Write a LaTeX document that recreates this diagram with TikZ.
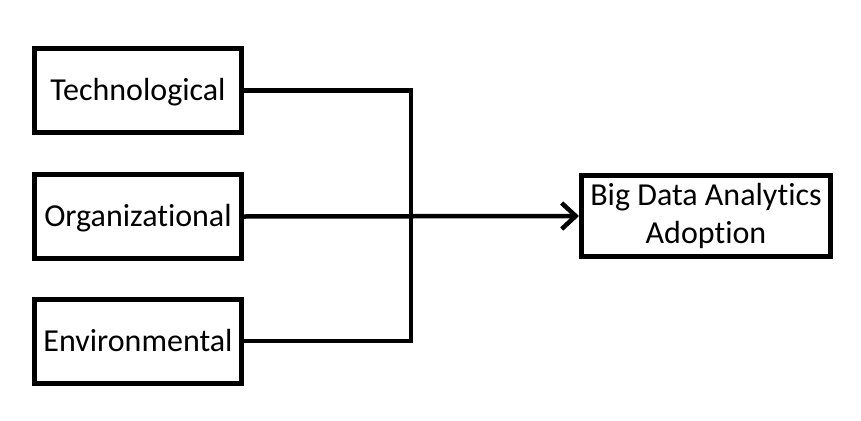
\documentclass[tikz,border=0pt]{standalone}
\usepackage{fontspec}
\setmainfont{Carlito}[Ligatures=NoCommon]
\usetikzlibrary{arrows.meta}
\begin{document}
\begin{tikzpicture}[x=1pt,y=-1pt,
  factor/.style={draw=black,line width=5pt,minimum width=207pt,minimum height=84pt,
    inner sep=0pt,font=\fontsize{32}{38}\selectfont,text height=20.6pt,text depth=0pt},
  target/.style={draw=black,line width=5pt,minimum width=249pt,minimum height=81pt,
    inner sep=0pt,align=center,font=\fontsize{32}{38}\selectfont},
  conn/.style={line width=4.5pt,draw=black}]
\useasboundingbox (0,0) rectangle (861,420);
\node[factor] (t) at (138,90.5) {Technological};
\node[factor] (o) at (138,216.5) {Organizational};
\node[factor] (e) at (138,341) {Environmental};
\node[target] (b) at (706,216) {Big Data Analytics\\Adoption};
\coordinate (jx) at (411,0);
\draw[conn] (t.east) -- (t.east -| jx) -- (e.east -| jx) -- (e.east);
\draw[conn,-{Straight Barb[length=14pt,width=26pt]}] (o.east) -- (b.west);
\end{tikzpicture}
\end{document}
